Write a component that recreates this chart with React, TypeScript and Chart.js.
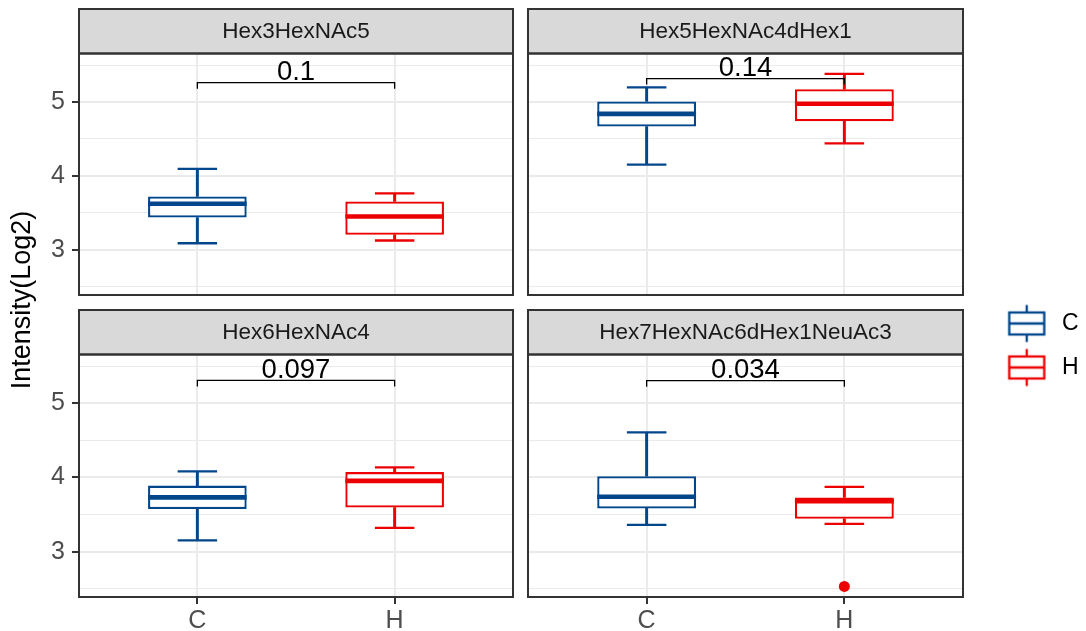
import React, { useEffect, useRef } from 'react';
import { Chart, registerables } from 'chart.js';

Chart.register(...registerables);

// ---------------- data ----------------
const panelTitles = ['Hex3HexNAc5', 'Hex5HexNAc4dHex1', 'Hex6HexNAc4', 'Hex7HexNAc6dHex1NeuAc3'];
const groups = ['C', 'H'];
const groupColors = ['#00468B', '#ED0000'];

// per panel: [C, H]
const whiskerLow = [[3.09, 3.127], [4.155, 4.441], [3.154, 3.322], [3.361, 3.376]];
const q1 = [[3.439, 3.204], [4.668, 4.741], [3.574, 3.596], [3.583, 3.444]];
const medians = [[3.624, 3.452], [4.84, 4.977], [3.732, 3.955], [3.741, 3.682]];
const q3 = [[3.724, 3.656], [5.009, 5.173], [3.891, 4.073], [4.018, 3.732]];
const whiskerHigh = [[4.095, 3.765], [5.2, 5.382], [4.082, 4.136], [4.608, 3.873]];
const outlierGroups = [[], [], [], ['H']];
const outlierValues = [[], [], [], [2.533]];

const pValues = ['0.1', '0.14', '0.097', '0.034'];
const bracketY = [5.262, 5.318, 5.308, 5.304];

const yTickValues = [2.5, 3, 3.5, 4, 4.5, 5, 5.5];
const yMin = 2.39;
const yMax = 5.657;
const yTitle = 'Intensity(Log2)';

// ---------------- layout / style ----------------
const W = 1086;
const H = 631;
const FONT = '"Liberation Sans", Arial, Helvetica, sans-serif';
const COLS = [
  { left: 79, right: 513 },
  { left: 528, right: 963 },
];
const ROWS = [
  { stripTop: 9, plotTop: 53.5, plotBottom: 295 },
  { stripTop: 310, plotTop: 354.5, plotBottom: 597 },
];
const BOX_W = 0.5;
const CAP_W = 0.2;
const LINE_W = 2.3;
const MEDIAN_W = 4.6;
const STRIP_SIZE = 22.5;
const AXIS_SIZE = 25;
const LEGEND_SIZE = 23;

function halfWidthPx(w: number) {
  return (ctx: any) => {
    const xs = ctx.chart.scales.x;
    return Math.abs(xs.getPixelForValue(1 + w / 2) - xs.getPixelForValue(1));
  };
}

function zeroPadding(s: any) {
  s.paddingTop = 0;
  s.paddingBottom = 0;
  s.paddingLeft = 0;
  s.paddingRight = 0;
}

function Panel({ index, col, row }: { index: number; col: number; row: number }) {
  const ref = useRef<HTMLCanvasElement | null>(null);
  const c = COLS[col];
  const r = ROWS[row];
  const showY = col === 0;
  const showX = row === 1;
  const yAxisW = showY ? c.left : 8;
  const padTop = 4;
  const padRight = 6;
  const xAxisH = showX ? H - r.plotBottom : 6;
  const canvasLeft = c.left - yAxisW;
  const canvasTop = r.stripTop - padTop;
  const width = c.right + padRight - canvasLeft;
  const height = r.plotBottom + xAxisH - canvasTop;
  const stripH = r.plotTop - r.stripTop;
  const titleLine = STRIP_SIZE * 1.2;

  useEffect(() => {
    const i = index;
    const pts = (arr: number[][]) => groups.map((g, gi) => ({ x: gi + 1, y: arr[i][gi] }));
    const ranges = (a: number[][], b: number[][]) =>
      groups.map((g, gi) => ({ x: gi + 1, y: [a[i][gi], b[i][gi]] }));

    const stripPlugin = {
      id: 'strip',
      beforeDraw(chart: any) {
        const { ctx, chartArea: ca } = chart;
        const tb = chart.titleBlock;
        ctx.save();
        ctx.fillStyle = '#D9D9D9';
        ctx.fillRect(ca.left, tb.top, ca.right - ca.left, ca.top - tb.top);
        ctx.restore();
      },
      afterDraw(chart: any) {
        const { ctx, chartArea: ca } = chart;
        const tb = chart.titleBlock;
        ctx.save();
        ctx.strokeStyle = '#333333';
        ctx.lineWidth = 2;
        ctx.strokeRect(ca.left, tb.top, ca.right - ca.left, ca.top - tb.top);
        ctx.strokeRect(ca.left, ca.top, ca.right - ca.left, ca.bottom - ca.top);
        ctx.restore();
      },
    };

    const bracketPlugin = {
      id: 'bracket',
      afterDatasetsDraw(chart: any) {
        const { ctx } = chart;
        const xs = chart.scales.x;
        const ys = chart.scales.y;
        const yb = ys.getPixelForValue(bracketY[i]);
        const x1 = xs.getPixelForValue(1);
        const x2 = xs.getPixelForValue(2);
        const tip = 6;
        ctx.save();
        ctx.strokeStyle = '#000000';
        ctx.lineWidth = 1.3;
        ctx.beginPath();
        ctx.moveTo(x1, yb + tip);
        ctx.lineTo(x1, yb);
        ctx.lineTo(x2, yb);
        ctx.lineTo(x2, yb + tip);
        ctx.stroke();
        ctx.fillStyle = '#000000';
        ctx.font = `27.5px ${FONT}`;
        ctx.textAlign = 'center';
        ctx.textBaseline = 'alphabetic';
        ctx.fillText(pValues[i], (x1 + x2) / 2, yb - 2.5);
        ctx.restore();
      },
    };

    const chart = new Chart(ref.current as HTMLCanvasElement, {
      type: 'bar',
      data: {
        datasets: [
          {
            type: 'scatter',
            label: 'outliers',
            data: outlierGroups[i].map((g, k) => ({ x: groups.indexOf(g) + 1, y: outlierValues[i][k] })),
            pointStyle: 'circle',
            pointRadius: 5.5,
            pointHoverRadius: 5.5,
            pointBorderWidth: 0,
            pointBackgroundColor: (ctx: any) => groupColors[(ctx.raw?.x ?? 1) - 1],
          } as any,
          {
            type: 'scatter',
            label: 'median',
            data: pts(medians),
            pointStyle: 'line',
            pointRadius: halfWidthPx(BOX_W),
            pointHoverRadius: halfWidthPx(BOX_W),
            pointBorderWidth: MEDIAN_W,
            pointHoverBorderWidth: MEDIAN_W,
            pointBorderColor: groupColors,
          } as any,
          {
            type: 'scatter',
            label: 'capLow',
            data: pts(whiskerLow),
            pointStyle: 'line',
            pointRadius: halfWidthPx(CAP_W),
            pointHoverRadius: halfWidthPx(CAP_W),
            pointBorderWidth: LINE_W,
            pointHoverBorderWidth: LINE_W,
            pointBorderColor: groupColors,
          } as any,
          {
            type: 'scatter',
            label: 'capHigh',
            data: pts(whiskerHigh),
            pointStyle: 'line',
            pointRadius: halfWidthPx(CAP_W),
            pointHoverRadius: halfWidthPx(CAP_W),
            pointBorderWidth: LINE_W,
            pointHoverBorderWidth: LINE_W,
            pointBorderColor: groupColors,
          } as any,
          {
            type: 'bar',
            label: 'box',
            data: ranges(q1, q3),
            backgroundColor: '#FFFFFF',
            borderColor: groupColors,
            borderWidth: LINE_W,
            borderSkipped: false,
            grouped: false,
            barPercentage: BOX_W,
            categoryPercentage: 1,
          } as any,
          {
            type: 'bar',
            label: 'whiskerLow',
            data: ranges(whiskerLow, q1),
            backgroundColor: groupColors,
            borderWidth: 0,
            grouped: false,
            barThickness: LINE_W,
            maxBarThickness: LINE_W,
          } as any,
          {
            type: 'bar',
            label: 'whiskerHigh',
            data: ranges(q3, whiskerHigh),
            backgroundColor: groupColors,
            borderWidth: 0,
            grouped: false,
            barThickness: LINE_W,
            maxBarThickness: LINE_W,
          } as any,
        ],
      },
      options: {
        responsive: false,
        animation: false,
        events: [],
        layout: { autoPadding: false, padding: { top: padTop, right: padRight, left: 0, bottom: 0 } },
        scales: {
          x: {
            type: 'linear',
            min: 0.4,
            max: 2.6,
            bounds: 'data',
            offset: false,
            afterBuildTicks: (s: any) => {
              s.ticks = groups.map((g, gi) => ({ value: gi + 1 }));
            },
            afterFit: (s: any) => {
              s.height = xAxisH;
              zeroPadding(s);
            },
            ticks: {
              display: showX,
              autoSkip: false,
              maxRotation: 0,
              padding: 2,
              color: '#4D4D4D',
              font: { family: FONT, size: AXIS_SIZE },
              callback: (v: any) => groups[Math.round(v) - 1] ?? '',
            },
            grid: {
              offset: false,
              color: '#EBEBEB',
              lineWidth: 2,
              drawTicks: showX,
              tickLength: 7,
              tickColor: '#333333',
              tickWidth: 2,
            },
            border: { display: false },
          } as any,
          y: {
            type: 'linear',
            min: yMin,
            max: yMax,
            bounds: 'data',
            afterBuildTicks: (s: any) => {
              s.ticks = yTickValues.map((v) => ({ value: v }));
            },
            afterFit: (s: any) => {
              s.width = yAxisW;
              zeroPadding(s);
            },
            ticks: {
              display: showY,
              autoSkip: false,
              padding: 7,
              color: '#4D4D4D',
              font: { family: FONT, size: AXIS_SIZE },
              callback: (v: any) => (Number.isInteger(v) ? String(v) : ''),
            },
            grid: {
              color: '#EBEBEB',
              lineWidth: (ctx: any) => (Number.isInteger(ctx.tick?.value) ? 2 : 1.1),
              drawTicks: showY,
              tickLength: 7,
              tickWidth: 2,
              tickColor: (ctx: any) => (Number.isInteger(ctx.tick?.value) ? '#333333' : 'rgba(0,0,0,0)'),
            },
            border: { display: false },
          } as any,
        },
        plugins: {
          legend: { display: false },
          tooltip: { enabled: false },
          title: {
            display: true,
            text: panelTitles[i],
            fullSize: false,
            color: '#1A1A1A',
            font: { family: FONT, size: STRIP_SIZE, weight: 'normal', lineHeight: 1.2 },
            padding: { top: (stripH - titleLine) / 2 + 0.5, bottom: (stripH - titleLine) / 2 - 0.5 },
          } as any,
        },
      } as any,
      plugins: [stripPlugin, bracketPlugin],
    });
    return () => chart.destroy();
  }, []);

  return (
    <canvas
      ref={ref}
      width={width}
      height={height}
      style={{ position: 'absolute', left: canvasLeft, top: canvasTop, width, height }}
    />
  );
}

function makeGlyph(color: string) {
  const cv = document.createElement('canvas');
  cv.width = 40;
  cv.height = 44;
  const g = cv.getContext('2d') as CanvasRenderingContext2D;
  g.strokeStyle = color;
  g.lineWidth = LINE_W;
  g.beginPath();
  g.moveTo(20, 3.5);
  g.lineTo(20, 11);
  g.moveTo(20, 33);
  g.lineTo(20, 40.5);
  g.moveTo(2.5, 22);
  g.lineTo(37.5, 22);
  g.stroke();
  g.strokeRect(2.5, 11, 35, 22);
  return cv;
}

function Background() {
  const ref = useRef<HTMLCanvasElement | null>(null);
  useEffect(() => {
    const glyphs = groupColors.map((c) => makeGlyph(c));
    const chart = new Chart(ref.current as HTMLCanvasElement, {
      type: 'bar',
      data: {
        labels: [],
        datasets: groups.map((g, gi) => ({
          label: g,
          data: [],
          borderColor: groupColors[gi],
          backgroundColor: '#FFFFFF',
        })),
      },
      options: {
        responsive: false,
        animation: false,
        events: [],
        layout: { padding: { top: 60, left: 0, right: 0, bottom: 0 } },
        scales: {
          x: {
            display: true,
            ticks: { display: false },
            grid: { display: false },
            border: { display: false },
            afterFit: (s: any) => {
              s.height = 91;
            },
          },
          y: {
            display: true,
            ticks: { display: false },
            grid: { display: false },
            border: { display: false },
            title: {
              display: true,
              text: yTitle,
              color: '#000000',
              font: { family: FONT, size: 27, weight: 'normal' },
              padding: { top: 6, bottom: 0 },
            },
          },
        },
        plugins: {
          tooltip: { enabled: false },
          legend: {
            position: 'right',
            align: 'center',
            maxWidth: 104,
            labels: {
              usePointStyle: true,
              pointStyleWidth: 47.5,
              padding: 21,
              color: '#000000',
              font: { family: FONT, size: LEGEND_SIZE },
              generateLabels: () =>
                groups.map((g, gi) => ({
                  text: g,
                  pointStyle: glyphs[gi],
                  fontColor: '#000000',
                  fillStyle: 'rgba(0,0,0,0)',
                  strokeStyle: 'rgba(0,0,0,0)',
                  lineWidth: 0,
                  hidden: false,
                  datasetIndex: gi,
                })),
            },
          },
        },
      } as any,
    });
    return () => chart.destroy();
  }, []);
  return (
    <canvas
      ref={ref}
      width={W}
      height={H}
      style={{ position: 'absolute', left: 0, top: 0, width: W, height: H }}
    />
  );
}

export default function App() {
  return (
    <div
      style={{
        position: 'absolute',
        left: 0,
        top: 0,
        width: W,
        height: H,
        background: '#FFFFFF',
        overflow: 'hidden',
      }}
    >
      <Background />
      <Panel index={0} col={0} row={0} />
      <Panel index={1} col={1} row={0} />
      <Panel index={2} col={0} row={1} />
      <Panel index={3} col={1} row={1} />
    </div>
  );
}
